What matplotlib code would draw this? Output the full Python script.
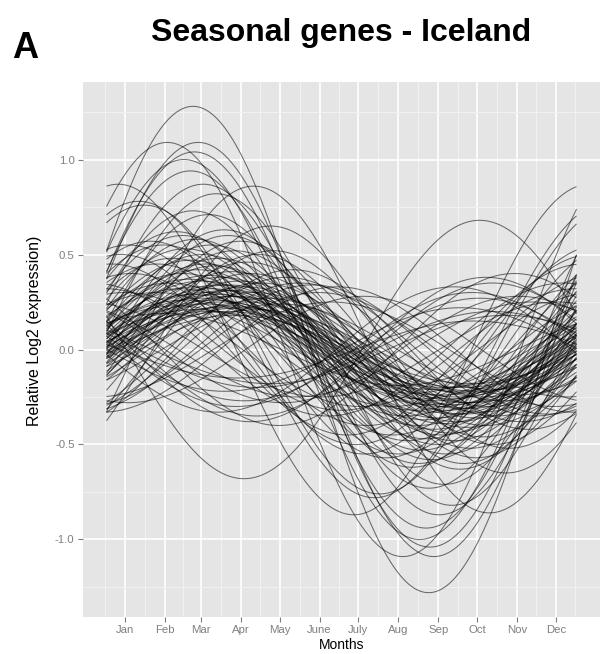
import numpy as np
import matplotlib
matplotlib.use('Agg')
import matplotlib.pyplot as plt

# cosinor fit per seasonal gene: amplitude (relative log2) and day of year of the peak
amplitude = [
    # strongest genes
    1.28, 1.09, 1.09, 1.04, 1.00, 0.94, 0.87, 0.86, 0.87, 0.78, 0.76, 0.82, 0.73, 0.68, 0.65, 0.71,
    # medium winter/spring genes
    0.62, 0.60, 0.58, 0.57, 0.55, 0.55, 0.53, 0.52, 0.50, 0.50,
    0.48, 0.48, 0.47, 0.46, 0.45, 0.45, 0.63, 0.60, 0.52, 0.57,
    # bulk of spring-peaking genes
    0.44, 0.42, 0.41, 0.40, 0.40, 0.39, 0.38, 0.37, 0.36, 0.36,
    0.35, 0.35, 0.34, 0.34, 0.33, 0.33, 0.32, 0.32, 0.31, 0.31,
    0.30, 0.30, 0.30, 0.29, 0.29, 0.28, 0.28, 0.27, 0.27, 0.26,
    0.26, 0.25, 0.25, 0.24, 0.24, 0.23, 0.23, 0.22, 0.22, 0.21,
    0.21, 0.20, 0.20, 0.19, 0.18,
    # autumn-peaking genes
    0.40, 0.30, 0.27, 0.35, 0.22, 0.18, 0.25, 0.33, 0.38, 0.15, 0.28, 0.20,
    # midwinter-peaking genes
    0.45, 0.35, 0.30, 0.40, 0.25, 0.50, 0.32, 0.55,
    # summer-peaking genes
    0.35, 0.33, 0.30, 0.38, 0.25, 0.42, 0.28, 0.34,
]
peak_day = [
    68, 48, 72, 69, 61, 66, 10, 115, 76, 26, 30, 86, 68, 290, 128, 80,
    55, 95, 70, 105, 45, 82, 62, 100, 75, 118,
    52, 88, 66, 110, 40, 78, 92, 60, 130, 35,
    85, 72, 98, 60, 112, 80, 90, 65, 104, 75,
    120, 50, 88, 95, 70, 108, 82, 58, 100, 92,
    78, 115, 40, 86, 68, 102, 96, 74, 125, 84,
    62, 110, 90, 76, 135, 98, 55, 88, 105, 70,
    118, 94, 80, 45, 100,
    317, 284, 290, 300, 275, 310, 330, 270, 295, 285, 320, 300,
    5, 355, 15, 20, 350, 12, 0, 18,
    150, 180, 165, 140, 175, 145, 200, 160,
]

month_labels = ['Jan', 'Feb', 'Mar', 'Apr', 'May', 'June',
                'July', 'Aug', 'Sep', 'Oct', 'Nov', 'Dec']
month_mid = [15, 46, 74, 105, 135, 166, 196, 227, 258, 288, 319, 349]

days = np.arange(1, 366)

W, H = 606, 654
fig = plt.figure(figsize=(W / 100, H / 100), dpi=100)
fig.patch.set_facecolor('white')
ax = fig.add_axes([83 / W, 1 - 617 / H, 517 / W, 535 / H])
ax.set_facecolor('#E5E5E5')

for a, p in zip(amplitude, peak_day):
    ax.plot(days, a * np.cos(2 * np.pi * (days - p) / 365.0),
            color='black', alpha=0.55, lw=0.75, solid_capstyle='butt')

span = days[-1] - days[0]
ax.set_xlim(days[0] - 0.05 * span, days[-1] + 0.05 * span)
ymax = max(amplitude) * 1.1
ax.set_ylim(-ymax, ymax)

mids = np.array(month_mid, dtype=float)
minor_x = list((mids[:-1] + mids[1:]) / 2)
minor_x = [mids[0] - (mids[1] - mids[0]) / 2] + minor_x + [mids[-1] + (mids[-1] - mids[-2]) / 2]
ax.set_xticks(month_mid)
ax.set_xticklabels(month_labels)
ax.set_xticks(minor_x, minor=True)

yt = [-1.0, -0.5, 0.0, 0.5, 1.0]
ax.set_yticks(yt)
ax.set_yticklabels(['%.1f' % v for v in yt])
ax.set_yticks([-1.25, -0.75, -0.25, 0.25, 0.75, 1.25], minor=True)

ax.grid(which='minor', color='#F2F2F2', lw=0.7)
ax.grid(which='major', color='white', lw=1.2)
ax.set_axisbelow(True)
for s in ax.spines.values():
    s.set_visible(False)

font = 'Liberation Sans'
ax.tick_params(which='major', length=3.6, width=0.8, color='#7F7F7F',
               labelcolor='#7F7F7F', labelsize=8.2, pad=2.5)
ax.tick_params(which='minor', length=0)
for lab in ax.get_xticklabels() + ax.get_yticklabels():
    lab.set_family(font)

fig.text(341.5 / W, 1 - 645 / H, 'Months', ha='center', va='center',
         fontsize=10, family=font)
fig.text(35 / W, 1 - 331 / H, 'Relative Log2 (expression)', ha='center', va='center',
         rotation=90, fontsize=11.5, family=font)
fig.text(341.5 / W, 1 - 41 / H, 'Seasonal genes - Iceland', ha='center', va='baseline',
         fontsize=23, fontweight='bold', family=font)
fig.text(12 / W, 1 - 58 / H, 'A', ha='left', va='baseline',
         fontsize=26, fontweight='bold', family=font)

fig.savefig('out.png', dpi=100)
